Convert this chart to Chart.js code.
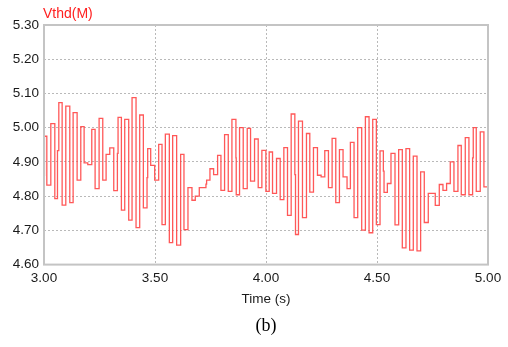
<!DOCTYPE html>
<html>
<head>
<meta charset="utf-8">
<script src="https://cdn.jsdelivr.net/npm/chart.js@4/dist/chart.umd.min.js"></script>
<style>
  html, body { margin: 0; padding: 0; background: #fff; }
  #wrap { width: 508px; height: 347px; position: relative; }
</style>
</head>
<body>
<div id="wrap"><canvas id="c"></canvas></div>
<script>
// step times (s) and Vthd values
const times = [
  3.000, 3.002, 3.0127, 3.0307, 3.0487, 3.0607, 3.0667, 3.0817, 3.0982, 3.1162,
  3.1312, 3.1492, 3.1657, 3.1807, 3.1972, 3.2152, 3.2302, 3.2482, 3.2647, 3.2797,
  3.2962, 3.3142, 3.3306, 3.3336, 3.3486, 3.3636, 3.3816, 3.3966, 3.4146, 3.4311,
  3.4476, 3.4641, 3.4671, 3.4806, 3.4986, 3.5166, 3.5316, 3.5466, 3.5646, 3.5796,
  3.5975, 3.6155, 3.6305, 3.6485, 3.6665, 3.6815, 3.6995, 3.7295, 3.7325, 3.7475,
  3.7640, 3.7820, 3.7970, 3.8134, 3.8300, 3.8465, 3.8645, 3.8659, 3.8809, 3.8974,
  3.9154, 3.9304, 3.9484, 3.9649, 3.9814, 3.9994, 4.0144, 4.0294, 4.0474, 4.0639,
  4.0804, 4.0969, 4.1134, 4.1299, 4.1329, 4.1463, 4.1643, 4.1823, 4.1973, 4.2138,
  4.2318, 4.2483, 4.2648, 4.2813, 4.2978, 4.3143, 4.3308, 4.3471, 4.3651, 4.3801,
  4.3966, 4.4131, 4.4311, 4.4477, 4.4642, 4.4807, 4.4971, 4.5137, 4.5287, 4.5317,
  4.5467, 4.5630, 4.5811, 4.5976, 4.6140, 4.6305, 4.6470, 4.6635, 4.6802, 4.6965,
  4.7130, 4.7310, 4.7625, 4.7806, 4.7971, 4.8135, 4.8301, 4.8466, 4.8646, 4.8796,
  4.8976, 4.9141, 4.9306, 4.9336, 4.9471, 4.9651, 4.9816, 5.000
];
const vthd = [
  4.860, 4.975, 4.832, 5.012, 4.793, 4.933, 5.073, 4.774, 5.063, 4.781,
  5.044, 4.847, 5.003, 4.897, 4.892, 4.995, 4.822, 5.027, 4.847, 4.922,
  4.941, 4.816, 4.925, 5.030, 4.759, 5.024, 4.730, 5.088, 4.708, 5.037,
  4.766, 4.854, 4.939, 4.890, 4.847, 4.951, 4.717, 4.981, 4.664, 4.977,
  4.657, 4.922, 4.702, 4.825, 4.788, 4.800, 4.825, 4.835, 4.847, 4.880,
  4.863, 4.919, 4.817, 4.980, 4.814, 5.024, 4.912, 4.804, 5.000, 4.822,
  4.998, 4.844, 4.967, 4.825, 4.934, 4.814, 4.929, 4.808, 4.910, 4.790,
  4.942, 4.744, 5.040, 4.863, 4.688, 5.019, 4.737, 4.983, 4.812, 4.942,
  4.861, 4.856, 4.933, 4.825, 4.969, 4.781, 4.936, 4.856, 4.822, 4.957,
  4.737, 5.000, 4.701, 5.032, 4.693, 5.024, 4.717, 4.932, 4.873, 4.811,
  4.837, 4.925, 4.716, 4.936, 4.649, 4.939, 4.642, 4.917, 4.640, 4.871,
  4.723, 4.808, 4.773, 4.834, 4.817, 4.837, 4.900, 4.814, 4.948, 4.804,
  4.971, 4.804, 4.912, 5.000, 4.814, 4.988, 4.827, 4.827
];

const xMin = 3.0, xMax = 5.0, xStep = 0.5;
const yMin = 4.6, yMax = 5.3, yStep = 0.1;
const seriesName = "Vthd(M)";
const xTitle = "Time (s)";
const caption = "(b)";

const textColor = "#1a1a1a";
const gridColor = "#b9b9b9";
const frameColor = "#c4c4c4";
const lineColor = "rgba(255, 70, 70, 0.9)";
const sans = "'Liberation Sans', Arial, sans-serif";

const points = times.map((t, i) => ({ x: t, y: vthd[i] }));

const isEdge = (v, lo, hi) => Math.abs(v - lo) < 1e-6 || Math.abs(v - hi) < 1e-6;

// frame, series label, axis title and caption
const framePlugin = {
  id: "frame",
  afterDraw(chart) {
    const { ctx, chartArea: a } = chart;
    ctx.save();
    ctx.strokeStyle = frameColor;
    ctx.lineWidth = 2;
    ctx.setLineDash([]);
    ctx.strokeRect(a.left, a.top, a.right - a.left, a.bottom - a.top);

    ctx.fillStyle = "#ff2020";
    ctx.font = "14px " + sans;
    ctx.textAlign = "left";
    ctx.textBaseline = "middle";
    ctx.fillText(seriesName, a.left - 1, 14);

    ctx.fillStyle = textColor;
    ctx.textAlign = "center";
    ctx.font = "13.5px " + sans;
    ctx.fillText(xTitle, (a.left + a.right) / 2, 299);

    ctx.fillStyle = "#000";
    ctx.font = "18px 'Liberation Serif', 'Times New Roman', serif";
    ctx.fillText(caption, (a.left + a.right) / 2, 326);
    ctx.restore();
  },
};

new Chart(document.getElementById("c"), {
  type: "line",
  data: {
    datasets: [
      {
        label: seriesName,
        data: points,
        stepped: true,
        borderColor: lineColor,
        borderWidth: 1.3,
        pointRadius: 0,
        fill: false,
      },
    ],
  },
  options: {
    responsive: true,
    maintainAspectRatio: false,
    animation: false,
    layout: { padding: { top: 25, right: 20, left: 0, bottom: 0 } },
    plugins: {
      legend: { display: false },
      tooltip: { enabled: false },
    },
    scales: {
      x: {
        type: "linear",
        min: xMin,
        max: xMax,
        afterFit: (s) => { s.height = 347 - 25 - 239.6; },
        ticks: {
          stepSize: xStep,
          color: textColor,
          padding: 6,
          maxRotation: 0,
          font: { family: sans, size: 13.5 },
          callback: (v) => Number(v).toFixed(2),
        },
        border: { display: false, dash: [2, 2] },
        grid: {
          drawTicks: false,
          color: (c) => (c.tick && isEdge(c.tick.value, xMin, xMax) ? "rgba(0,0,0,0)" : gridColor),
          lineWidth: 1,
        },
      },
      y: {
        min: yMin,
        max: yMax,
        afterFit: (s) => { s.width = 44; },
        ticks: {
          stepSize: yStep,
          color: textColor,
          padding: 5,
          font: { family: sans, size: 13.5 },
          callback: (v) => Number(v).toFixed(2),
        },
        border: { display: false, dash: [2, 2] },
        grid: {
          drawTicks: false,
          color: (c) => (c.tick && isEdge(c.tick.value, yMin, yMax) ? "rgba(0,0,0,0)" : gridColor),
          lineWidth: 1,
        },
      },
    },
  },
  plugins: [framePlugin],
});
</script>
</body>
</html>
